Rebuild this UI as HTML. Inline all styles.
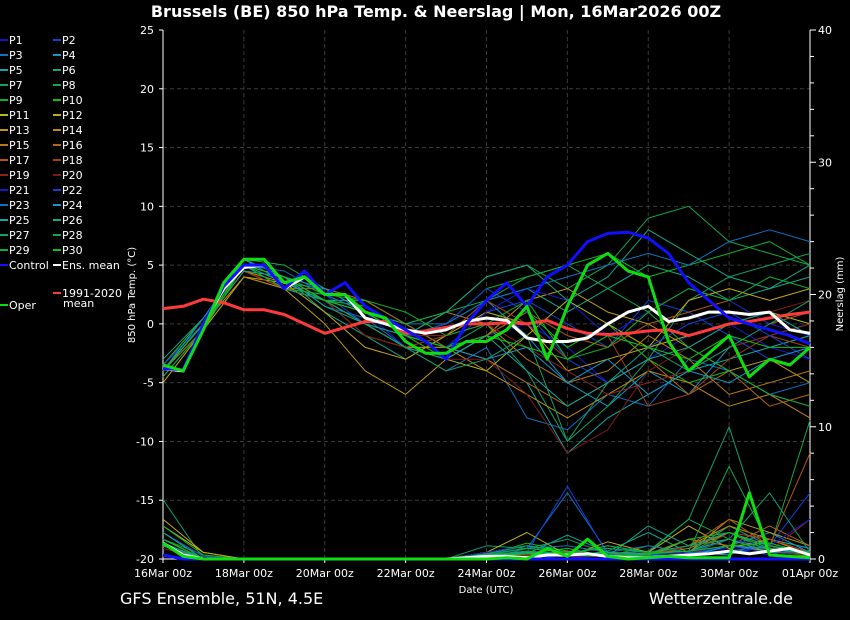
<!DOCTYPE html>
<html><head><meta charset="utf-8"><style>
body{margin:0;background:#000;width:850px;height:620px;overflow:hidden;font-family:"DejaVu Sans","Liberation Sans",sans-serif}
svg{display:block}
</style></head><body>
<svg id="c" width="850" height="620" xmlns="http://www.w3.org/2000/svg">
<rect width="850" height="620" fill="#000"/>
<text x="436" y="17" fill="#fff" font-size="16" font-weight="bold" text-anchor="middle">Brussels  (BE)  850 hPa Temp. &amp; Neerslag | Mon, 16Mar2026 00Z</text>
<text x="120" y="604" fill="#fff" font-size="16">GFS Ensemble, 51N, 4.5E</text>
<text x="793" y="604" fill="#fff" font-size="16" text-anchor="end">Wetterzentrale.de</text>
<text x="486" y="593" fill="#fff" font-size="10" text-anchor="middle">Date (UTC)</text>
<text transform="translate(135,295) rotate(-90)" fill="#fff" font-size="10" text-anchor="middle">850 hPa Temp. (°C)</text>
<text transform="translate(843,294) rotate(-90)" fill="#fff" font-size="10" text-anchor="middle">Neerslag (mm)</text>
<g id="grid"></g><g id="axes"></g><g id="series"></g><g id="legend"></g>
</svg>
<script>
const xLabels=["16Mar 00z","18Mar 00z","20Mar 00z","22Mar 00z","24Mar 00z","26Mar 00z","28Mar 00z","30Mar 00z","01Apr 00z"];
const yTicks=[25,20,15,10,5,0,-5,-10,-15,-20];
const y2Ticks=[40,30,20,10,0];
const ensMean=[-3.8,-4,0,3,4.8,5,3,4,2.5,2.5,0.5,0,-0.5,-0.8,-0.5,0.2,0.5,0.3,-1.2,-1.5,-1.5,-1.2,0,1,1.5,0.2,0.5,1,1,0.8,1,-0.5,-0.8];
const control=[-3.8,-3.9,0,3.2,5,5,3,4.5,2.5,3.5,1.5,0.5,-0.5,-1.5,-3,0,2,3.5,1.5,4,5,7,7.7,7.8,7.3,6,3.5,2,0.5,0,-0.5,-1,-1.7];
const oper=[-3.5,-4,-0.5,3.5,5.5,5.5,3.5,4,2.5,2.5,1,0.5,-1.5,-2.5,-2.5,-1.5,-1.5,-0.5,1.5,-3,1.5,5,6,4.5,4,-1.5,-4,-2.5,-1,-4.5,-3,-3.5,-2];
const clim=[1.3,1.5,2.1,1.8,1.2,1.2,0.8,0,-0.8,-0.3,0.2,0.2,-0.8,-0.6,-0.3,0,0,0.1,0,0.3,-0.4,-0.8,-0.9,-0.8,-0.6,-0.5,-1,-0.5,0,0.2,0.5,0.8,1.0];
const meanPrecip=[1.2,0.3,0,0,0,0,0,0,0,0,0,0,0,0,0,0.1,0.2,0.2,0.1,0.3,0.3,0.4,0.2,0.1,0.1,0.2,0.3,0.4,0.6,0.4,0.6,0.8,0.3];
const operPrecip=[1.2,0.2,0,0,0,0,0,0,0,0,0,0,0,0,0,0,0,0.1,0,0.8,0.2,1.5,0.2,0,0.1,0.2,0.1,0.1,0.1,5,0.3,0.2,0.1];
const controlPrecip=[0.3,0,0,0,0,0,0,0,0,0,0,0,0,0,0,0,0,0,0,0,0,0,0,0,0,0,0,0,0,0,0,0,0];
const members=[
[-4,0,5,4,2,1,-2,-3,-1,0,-2,-5,-3,-1,0,-2,-3],
[-4,0.5,5,3,2.5,0,-1,-2,1,2,0,-2,2,1,-1,-3,-2],
[-3.5,0,4.5,4,1.5,0.5,-2,-4,-2,-8,-9,-6,-7,-3,-4,-6,-5],
[-4,-0.5,5.5,3.5,3,1,-1,0,2,-1,-5,-7,-4,-6,-2,-1,0],
[-4,0,5,3,2,2,0,-2,-3,-5,-11,-8,-6,-4,-3,-2,-1],
[-3,0.5,5,4,1,-1,-3,-1,2,3,1,3,5,4,2,3,4],
[-4,0,5,3.5,2,0,-2,-2,0,-4,-10,-7,-3,2,4,5,6],
[-4.5,-0.5,5.5,5,3,2,0,1,4,5,3,5,9,10,7,6,5],
[-4,0,5,4,2.5,1,-1,0,3,4,5,6,4,5,6,7,5],
[-3.5,0.5,5,3,2,1.5,-1,-3,-1,1,-2,0,-3,-5,-4,-6,-7],
[-4,0,4.5,3,2,-1,-2,-3,-4,-1,2,0,-2,-1,0,1,0],
[-5,-0.5,4,3.5,1,-2,-3,-1,1,0,-4,-3,-2,2,3,2,3],
[-4,0,4,3,0,-4,-6,-3,-1,2,3,1,0,-2,-4,-3,-5],
[-4,0,4.5,3.5,2,0,-2,-2,-4,-6,-8,-6,-4,-5,-7,-6,-8],
[-4,0,5,4,2,1,-1,1,0,-3,-5,-4,-1,-3,-6,-5,-4],
[-4,-0.5,5,3,3,2,0,-2,-3,-5,-7,-5,-3,-6,-4,-7,-6],
[-3.5,0,5,4,2,1,-1,-2,-1,1,-1,-2,0,1,2,0,1],
[-4,0,4.5,3,2,0,-2,-1,2,0,-3,-1,-7,-6,-3,-1,-2],
[-4,0.5,5,4,2,0,-1,-1,0,-2,-4,-6,-5,-4,-2,-1,0],
[-4,0,5,3,2,-1,-2,-3,-3,-6,-11,-9,-4,-2,0,1,2],
[-4,0,5,4,2,1,-1,-2,1,3,2,-1,1,3,2,0,-1],
[-3.5,0,5,3,2,0,-1,0,3,1,-3,-5,-2,0,1,-1,-3],
[-4,0,5,4.5,2.5,1,0,0,2,3,4,5,6,5,7,8,7],
[-4,0.5,5.5,4,3,1,-1,-2,-3,-2,-5,-3,-6,-4,-5,-3,-2],
[-4,0,5,3.5,2,0,-2,-3,-1,-4,-7,-5,-3,-2,0,1,-1],
[-4,0,4.5,4,1.5,0,-1,1,4,5,2,4,8,6,4,3,5],
[-4,0,5,3,2,0,-2,-4,-3,-1,-10,-5,-2,-4,-2,0,2],
[-4,0,5,4,2,1,0,1,2,4,5,3,1,-2,-4,-6,-7],
[-4.5,-0.5,5,3,2.5,2,1,-1,0,2,-3,-2,1,3,2,4,3],
[-4,0,5,4,2,1,-1,-2,-1,-2,-3,-1,-2,-3,-1,-2,-2]];
const memberPrecip=[
[2,0,0,0,0,0,0,0,0.3,0.5,0.2,0,0,0.5,0.8,0.3,1],
[1,0,0,0,0,0,0,0,0.2,0.3,0,0.5,0,0.3,0.4,1,5],
[1.5,0,0,0,0,0,0,0,0,0.8,5,0.5,0,0.3,1,0.8,0.5],
[1,0,0,0,0,0,0,0,0,0.5,0.3,0.2,0.5,0.2,1,2,0.5],
[2,0.2,0,0,0,0,0,0,0.5,1,0.5,0.3,0.2,0.5,0.3,1.5,0.8],
[1.2,0,0,0,0,0,0,0,0,0.3,0.2,0.6,2,0.5,2.5,1,0.5],
[4.5,0,0,0,0,0,0,0,1,0.8,1.5,0.4,0.6,3,10,0.5,0.3],
[1,0,0,0,0,0,0,0,0.2,0.5,0.3,1,0.5,3,1.5,0.8,10.5],
[1.5,0.3,0,0,0,0,0,0,0.3,1.2,0.6,0.2,1,0.5,2,0.6,0.2],
[2,0,0,0,0,0,0,0,0,0.4,0.8,0.2,0.3,0.4,1.5,0.5,0.3],
[2.5,0.5,0,0,0,0,0,0,0.5,2,0.3,0.2,0.2,1.5,1,0.6,0.4],
[3,0.5,0,0,0,0,0,0,0.3,0.5,0.2,1.3,0.5,2.5,0.8,1.5,0.5],
[1.5,0,0,0,0,0,0,0,0.5,1,0.5,0.3,0.2,0.5,3,2,1],
[2,0.2,0,0,0,0,0,0,0.2,0.3,0.6,0.2,0.4,1,2.5,1.5,0.3],
[1,0,0,0,0,0,0,0,0.3,0.5,0.3,0.5,0.3,0.8,2,1,0.5],
[1.5,0,0,0,0,0,0,0,0,0.2,0.5,0.3,0.4,1.5,1,2.5,1],
[1,0,0,0,0,0,0,0,0.2,0.3,0.2,0.3,0.2,1,3,1,8],
[1.2,0,0,0,0,0,0,0,0.4,0.2,0.5,0.2,0.5,0.3,2,1.5,0.5],
[1,0,0,0,0,0,0,0,0,0.2,0.3,0.2,0.3,1,1.5,0.6,3],
[0.8,0,0,0,0,0,0,0,0.2,0.3,0.2,0.2,0.2,0.5,1,0.5,0.3],
[1.5,0,0,0,0,0,0,0,0.5,1,0.5,0.4,0.3,0.5,1.5,1,3],
[2,0.2,0,0,0,0,0,0,0.3,0.5,5.5,0.3,0.2,0.4,1,0.5,0.5],
[1,0,0,0,0,0,0,0,0.4,0.8,1,0.5,1,0.5,0.6,1,0.3],
[1.5,0,0,0,0,0,0,0,0.2,0.6,0.3,0.2,0.3,0.2,1,0.8,0.4],
[1.2,0,0,0,0,0,0,0,0.3,0.4,1.8,0.5,0.4,0.6,1.5,0.5,0.6],
[2,0,0,0,0,0,0,0,0.2,0.5,0.3,0.2,2.5,1,2,1,0.5],
[1.5,0,0,0,0,0,0,0,0.4,1,0.5,0.8,0.5,1,1.5,5,0.5],
[1,0,0,0,0,0,0,0,0.3,0.6,0.4,1,0.5,0.6,7,1,0.3],
[2.5,0.3,0,0,0,0,0,0,0.3,0.8,0.5,0.4,0.3,1.5,2,0.8,0.5],
[1.5,0,0,0,0,0,0,0,0.2,0.4,0.3,0.2,0.4,0.6,1,1.2,0.4]];
const memberColors=["#1818c8","#1040d8","#1070c0","#1098c8","#10a8a8","#10a888","#10a068","#10a848","#10b028","#10c010","#b8b810","#c8a810","#c09810","#c08810","#b87810","#b06810","#b05810","#a04018","#902020","#801818"];

const NS="http://www.w3.org/2000/svg";
const L=163,R=810,T=30,B=559;
const xs=d=>L+(R-L)*d/16;
const ys=v=>T+(25-v)*(B-T)/45;
const yp=v=>B-v*(B-T)/40;
function mk(tag,attrs,parent){const e=document.createElementNS(NS,tag);for(const k in attrs)e.setAttribute(k,attrs[k]);parent.appendChild(e);return e;}
const grid=document.getElementById('grid'),axes=document.getElementById('axes'),ser=document.getElementById('series'),leg=document.getElementById('legend');

yTicks.forEach(v=>{
  const y=ys(v);
  if(v<25&&v>-20){const g=mk('line',{x1:L,x2:R,y1:y,y2:y,stroke:'#3a3a3a','stroke-dasharray':'4,3'},grid);
  
  }
  mk('line',{x1:L-4,x2:L,y1:y,y2:y,stroke:'#fff'},axes);
  const t=mk('text',{x:L-9,y:y+4,fill:'#fff','font-size':11,'text-anchor':'end'},axes);
  t.textContent=v;
  
  
});
for(let m=0;m<=40;m+=2){const y=yp(m);mk('line',{x1:R,x2:R+(m%10===0?6:4),y1:y,y2:y,stroke:'#fff'},axes);}
y2Ticks.forEach(v=>{
  const t=mk('text',{x:R+8,y:yp(v)+4,fill:'#fff','font-size':11},axes);
  t.textContent=v;
  
  
});
xLabels.forEach((s,i)=>{
  const x=xs(i*2);
  if(i>0&&i<8){const g=mk('line',{x1:x,x2:x,y1:T,y2:B,stroke:'#3a3a3a','stroke-dasharray':'4,3'},grid);
  
  }
  mk('line',{x1:x,x2:x,y1:B,y2:B+4,stroke:'#fff'},axes);
  const t=mk('text',{x:x,y:577,fill:'#fff','font-size':11,'text-anchor':'middle'},axes);
  t.textContent=s;
  
  
});
mk('line',{x1:L,x2:L,y1:T,y2:B,stroke:'#fff'},axes);
mk('line',{x1:R,x2:R,y1:T,y2:B,stroke:'#fff'},axes);
mk('line',{x1:L,x2:R,y1:B,y2:B,stroke:'#fff'},axes);

function path(arr,yf,color,w,name){
  const step=16/(arr.length-1);
  const d=arr.map((v,i)=>(i?'L':'M')+xs(i*step).toFixed(1)+','+yf(v).toFixed(1)).join('');
  const p=mk('path',{d:d,fill:'none',stroke:color,'stroke-width':w,'stroke-linejoin':'round'},ser);
  
  
}
members.forEach((m,i)=>path(m,ys,memberColors[i%20],1,'member-p'+(i+1)+'-temp'));
memberPrecip.forEach((m,i)=>path(m,yp,memberColors[i%20],1,'member-p'+(i+1)+'-precip'));
path(clim,ys,'#ff3a3a',3,'climate-mean-line');
path(ensMean,ys,'#fff',3,'ens-mean-temp-line');
path(meanPrecip,yp,'#fff',3,'ens-mean-precip-line');
path(controlPrecip,yp,'#1010ff',3,'control-precip-line');
path(operPrecip,yp,'#10dd10',3,'oper-precip-line');
path(control,ys,'#1010ff',3,'control-temp-line');
path(oper,ys,'#10dd10',3,'oper-temp-line');

function legItem(x,y,color,label,w,name){
  const g=mk('g',{},leg);
  
  
  mk('line',{x1:x,x2:x+8,y1:y,y2:y,stroke:color,'stroke-width':w},g);
  const t=mk('text',{x:x+9,y:y+4,fill:'#fff','font-size':11},g);
  t.textContent=label;
}
for(let i=0;i<30;i++){
  const col=i%2,row=Math.floor(i/2);
  legItem(col?53:0,40+row*15,memberColors[i%20],'P'+(i+1),2,'legend-entry-p'+(i+1));
}
legItem(0,265,'#1010ff','Control',2,'legend-entry-control');
legItem(53,265,'#fff','Ens. mean',2,'legend-entry-ens-mean');
legItem(53,293,'#ff3a3a','1991-2020',2,'legend-entry-climate');
const mt=mk('text',{x:63,y:307,fill:'#fff','font-size':11},leg);mt.textContent='mean';
legItem(0,305,'#10dd10','Oper',2,'legend-entry-oper');
</script>
</body></html>
